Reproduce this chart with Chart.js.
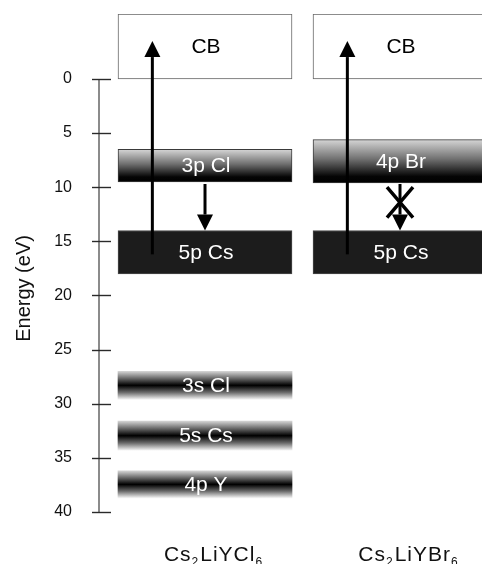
<!DOCTYPE html>
<html>
<head>
<meta charset="utf-8">
<title>Energy levels of Cs2LiYCl6 and Cs2LiYBr6</title>
<script src="https://cdn.jsdelivr.net/npm/chart.js@4.4.1/dist/chart.umd.min.js"></script>
<style>
  html, body { margin: 0; padding: 0; background: #fff; }
  #wrap { width: 482px; height: 564px; }
</style>
</head>
<body>
<div id="wrap"><canvas id="levels" width="482" height="564"></canvas></div>
<script>
// Compounds (digits are typeset as subscripts)
const categories = ['Cs2LiYCl6', 'Cs2LiYBr6'];

// Energy axis ticks (eV)
const energyTicks = [0, 5, 10, 15, 20, 25, 30, 35, 40];

// Cs2LiYCl6 bands: name, upper and lower edge (eV)
const clBandNames = ['CB', '3p Cl', '5p Cs', '3s Cl', '5s Cs', '4p Y'];
const clBandTop = [-6, 6.5, 14, 27, 31.6, 36.2];
const clBandBottom = [0, 9.5, 18, 29.6, 34.3, 38.7];

// Cs2LiYBr6 bands
const brBandNames = ['CB', '4p Br', '5p Cs'];
const brBandTop = [-6, 5.6, 14];
const brBandBottom = [0, 9.6, 18];

// Transitions: compound index, kind, start and end energy (eV)
const arrowCompound = [0, 0, 1, 1];
const arrowKind = ['excite', 'relax', 'excite', 'relax'];
const arrowFrom = [16.2, 9.7, 16.2, 9.7];
const arrowTo = [-3.5, 14, -3.5, 14];
const arrowBlocked = [false, false, false, true];
// energy span of the cross over a forbidden transition
const blockedSpan = [10.0, 12.8];

// ---- drawing style ----
const FONT = "'Liberation Sans', Arial, Helvetica, sans-serif";
const arrowLane = { excite: -0.27, relax: 0 };   // x offset inside a column (category units)

function bandKind(name) {
  if (name === 'CB') return 'cb';
  if (name === '5p Cs') return 'solid';
  if (name === '3p Cl' || name === '4p Br') return 'valence';
  return 'core';
}

function bandFill(kind) {
  return (ctx) => {
    if (kind === 'cb') return '#ffffff';
    if (kind === 'solid') return '#1c1c1c';
    const chart = ctx.chart;
    const ys = chart.scales && chart.scales.y;
    const raw = ctx.raw;
    if (!ys || !raw || !chart.chartArea) return '#444';
    const y0 = ys.getPixelForValue(raw.y[0]);
    const y1 = ys.getPixelForValue(raw.y[1]);
    const g = chart.ctx.createLinearGradient(0, y0, 0, y1);
    if (kind === 'valence') {
      g.addColorStop(0, '#d6d6d6');
      g.addColorStop(0.45, '#707070');
      g.addColorStop(0.85, '#050505');
      g.addColorStop(1, '#000000');
    } else {
      g.addColorStop(0, '#d4d4d4');
      g.addColorStop(0.25, '#6a6a6a');
      g.addColorStop(0.5, '#000000');
      g.addColorStop(0.75, '#6a6a6a');
      g.addColorStop(1, '#f4f4f4');
    }
    return g;
  };
}

const borderByKind = { cb: '#666666', solid: '#4a4a4a', valence: '#3a3a3a', core: 'rgba(0,0,0,0)' };
const borderWidthByKind = { cb: 1, solid: 1, valence: 1, core: 0 };
const textByKind = { cb: '#000000', solid: '#ffffff', valence: '#ffffff', core: '#ffffff' };

function bandDatasets(names, tops, bottoms, compound) {
  return names.map((name, i) => {
    const kind = bandKind(name);
    return {
      label: name,
      data: [{ x: compound, y: [tops[i], bottoms[i]] }],
      backgroundColor: bandFill(kind),
      borderColor: borderByKind[kind],
      borderWidth: borderWidthByKind[kind],
      borderSkipped: false,
      grouped: false,
      barThickness: 174,
      textColor: textByKind[kind]
    };
  });
}

const datasets = [
  ...bandDatasets(clBandNames, clBandTop, clBandBottom, 0),
  ...bandDatasets(brBandNames, brBandTop, brBandBottom, 1)
];

function drawArrow(c, x, y0, y1) {
  const dir = y1 > y0 ? 1 : -1;
  const headLen = 16, headHalf = 8;
  c.strokeStyle = '#000';
  c.fillStyle = '#000';
  c.lineWidth = 3;
  c.beginPath();
  c.moveTo(x, y0);
  c.lineTo(x, y1 - dir * headLen);
  c.stroke();
  c.beginPath();
  c.moveTo(x, y1);
  c.lineTo(x - headHalf, y1 - dir * headLen);
  c.lineTo(x + headHalf, y1 - dir * headLen);
  c.closePath();
  c.fill();
}

const levelDiagram = {
  id: 'levelDiagram',
  afterDatasetsDraw(chart) {
    const c = chart.ctx;
    const xs = chart.scales.x, ys = chart.scales.y;
    const area = chart.chartArea;

    // band names
    c.save();
    c.beginPath();
    c.rect(area.left, 0, area.right - area.left, chart.height);
    c.clip();
    c.font = '21px ' + FONT;
    c.textAlign = 'center';
    c.textBaseline = 'middle';
    chart.data.datasets.forEach((ds, di) => {
      const meta = chart.getDatasetMeta(di);
      meta.data.forEach((el) => {
        c.fillStyle = ds.textColor;
        c.fillText(ds.label, el.x + 1, (el.y + el.base) / 2 + 1);
      });
    });

    // transitions
    arrowCompound.forEach((ci, i) => {
      const x = xs.getPixelForValue(ci + arrowLane[arrowKind[i]]);
      drawArrow(c, x, ys.getPixelForValue(arrowFrom[i]), ys.getPixelForValue(arrowTo[i]));
      if (arrowBlocked[i]) {
        const ya = ys.getPixelForValue(blockedSpan[0]);
        const yb = ys.getPixelForValue(blockedSpan[1]);
        const hw = 13;
        c.lineWidth = 3.5;
        c.beginPath();
        c.moveTo(x - hw, ya); c.lineTo(x + hw, yb);
        c.moveTo(x + hw, ya); c.lineTo(x - hw, yb);
        c.stroke();
      }
    });
    c.restore();
  },
  afterDraw(chart) {
    const c = chart.ctx;
    const xs = chart.scales.x, ys = chart.scales.y;
    const ax = chart.chartArea.left - 1;
    c.save();
    // energy axis line and cross ticks
    c.strokeStyle = '#6e6e6e';
    c.lineWidth = 1.6;
    c.beginPath();
    c.moveTo(ax, ys.getPixelForValue(energyTicks[0]));
    c.lineTo(ax, ys.getPixelForValue(energyTicks[energyTicks.length - 1]));
    c.stroke();
    c.strokeStyle = '#2a2a2a';
    c.lineWidth = 1.4;
    energyTicks.forEach(v => {
      const y = Math.round(ys.getPixelForValue(v)) + 0.5;
      c.beginPath();
      c.moveTo(ax - 7, y);
      c.lineTo(ax + 12, y);
      c.stroke();
    });

    // axis title
    c.fillStyle = '#111';
    c.font = '20px ' + FONT;
    c.textAlign = 'center';
    c.textBaseline = 'alphabetic';
    c.translate(30, (ys.getPixelForValue(0) + ys.getPixelForValue(40)) / 2 - 7);
    c.rotate(-Math.PI / 2);
    c.fillText('Energy (eV)', 0, 0);
    c.setTransform(1, 0, 0, 1, 0, 0);

    // compound names with subscripted digits
    const big = '21px ' + FONT, small = '12px ' + FONT;
    if ('letterSpacing' in c) c.letterSpacing = '1px';
    categories.forEach((name, i) => {
      const parts = name.match(/\d+|\D+/g);
      let w = 0;
      parts.forEach(p => { c.font = /\d/.test(p) ? small : big; w += c.measureText(p).width + (/\d/.test(p) ? 1 : 0); });
      let x = xs.getPixelForValue(i) + 9 - w / 2;
      const base = 561;
      c.textAlign = 'left';
      parts.forEach(p => {
        const sub = /\d/.test(p);
        c.font = sub ? small : big;
        c.fillText(p, x, sub ? base + 5 : base);
        x += c.measureText(p).width + (sub ? 1 : 0);
      });
    });
    c.restore();
  }
};

new Chart(document.getElementById('levels'), {
  type: 'bar',
  data: { datasets },
  options: {
    responsive: false,
    animation: false,
    events: [],
    layout: { padding: { top: 14, bottom: 52, left: 0, right: 0 } },
    plugins: { legend: { display: false }, tooltip: { enabled: false } },
    scales: {
      x: {
        type: 'linear',
        display: false,
        offset: false,
        min: -0.5385,
        max: 1.4205
      },
      y: {
        type: 'linear',
        position: 'left',
        reverse: true,
        min: -6,
        max: 40,
        grid: { display: false, drawTicks: false },
        border: { display: false },
        afterBuildTicks: (scale) => { scale.ticks = energyTicks.map(v => ({ value: v })); },
        afterFit: (scale) => {
          scale.width = 100;
          scale.paddingTop = 0;
          scale.paddingBottom = 0;
        },
        ticks: {
          padding: 28,
          color: '#111',
          font: { family: FONT, size: 16 }
        }
      }
    }
  },
  plugins: [levelDiagram]
});
</script>
</body>
</html>
